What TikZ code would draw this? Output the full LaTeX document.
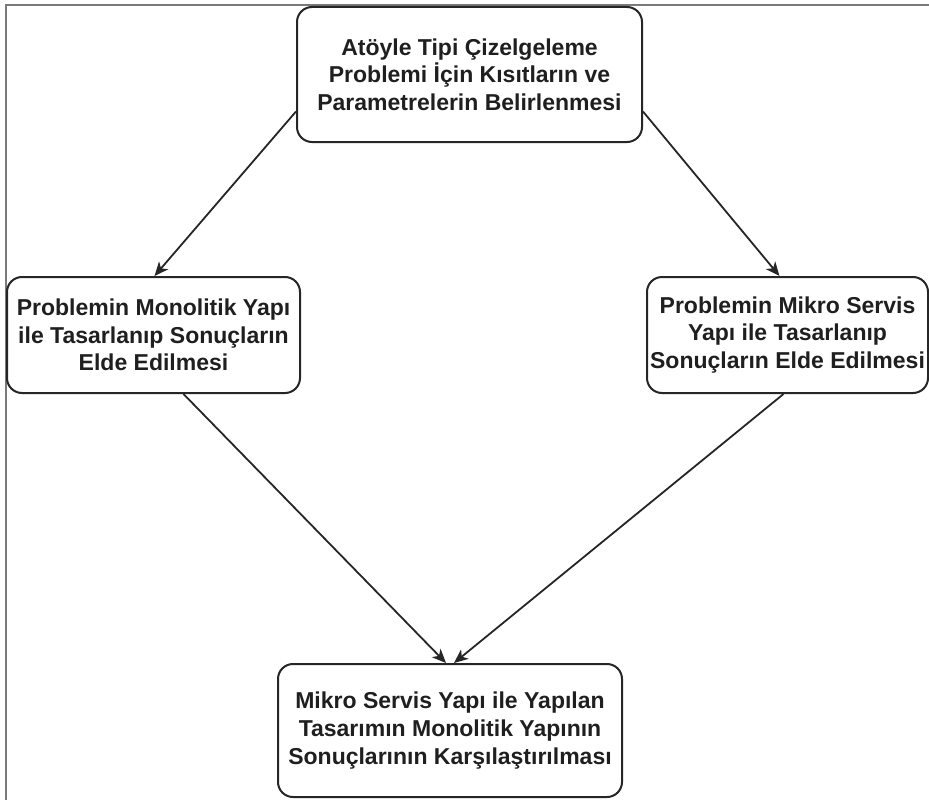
\documentclass[tikz,border=0pt]{standalone}
\usepackage{fontspec}
\setmainfont{Liberation Sans}
\usetikzlibrary{arrows.meta}
\begin{document}
\begin{tikzpicture}[x=1pt,y=-1pt,
  stepbox/.style={draw=black!85, line width=2pt, rounded corners=15pt,
    align=center, inner sep=0pt, font=\fontsize{23}{27.6}\selectfont\bfseries,
    text=black!88},
  flow/.style={draw=black!85, line width=1.8pt,
    -{Stealth[length=14pt,width=12pt,inset=4pt]}},
  frame/.style={draw=black!52, line width=1.8pt}]
  \useasboundingbox (0,0) rectangle (929,800);
  % cropped page frame (top and left edges only)
  \coordinate (frameA) at (6,800);
  \coordinate (frameB) at (6,5);
  \coordinate (frameC) at (929,5);
  \draw[frame] (frameA) -- (frameB) -- (frameC);

  \node[stepbox, minimum width=345pt, minimum height=135pt] (top) at (469.5,74.5)
    {Atöyle Tipi Çizelgeleme\\Problemi İçin Kısıtların ve\\Parametrelerin Belirlenmesi};
  \node[stepbox, minimum width=293pt, minimum height=116pt] (mono) at (153.5,335)
    {Problemin Monolitik Yapı\\ile Tasarlanıp Sonuçların\\Elde Edilmesi};
  \node[stepbox, minimum width=281pt, minimum height=116pt] (micro) at (787.5,335)
    {Problemin Mikro Servis\\Yapı ile Tasarlanıp\\Sonuçların Elde Edilmesi};
  \node[stepbox, minimum width=344pt, minimum height=133pt] (cmp) at (450,730.5)
    {Mikro Servis Yapı ile Yapılan\\Tasarımın Monolitik Yapının\\Sonuçlarının Karşılaştırılması};

  \draw[flow] ([yshift=-37pt]top.west) -- ([xshift=1pt]mono.north);
  \draw[flow] ([yshift=-37pt]top.east) -- ([xshift=-8pt]micro.north);
  \draw[flow] ([xshift=30pt]mono.south) -- ([xshift=-4pt]cmp.north);
  \draw[flow] ([xshift=-4pt]micro.south) -- ([xshift=4pt]cmp.north);
\end{tikzpicture}
\end{document}
